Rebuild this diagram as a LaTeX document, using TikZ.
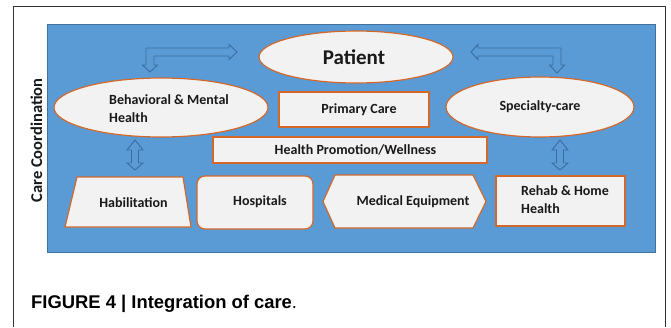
\documentclass[tikz,border=0pt]{standalone}
\usepackage{fontspec}
\setmainfont{Carlito}
\newfontfamily\capfont{Liberation Sans}
\usepackage{tikz}
\usetikzlibrary{shapes.geometric}
\definecolor{bgblue}{HTML}{5B9BD5}
\definecolor{edgeblue}{HTML}{41719C}
\definecolor{arrowblue}{HTML}{3A6C9E}
\definecolor{boxfill}{HTML}{F2F2F2}
\definecolor{boxline}{HTML}{D2692B}

\begin{document}
\begin{tikzpicture}[x=1pt,y=-1pt,
                    ell node/.style={ellipse,draw=boxline,fill=boxfill,line width=1.2pt,inner sep=0pt},
                    box node/.style={rectangle,draw=boxline,fill=boxfill,line width=1.2pt,inner sep=0pt},
                    txt node/.style={font=\fontsize{14}{17.5}\selectfont\bfseries,text=black!90,inner sep=0pt},
                    block arrow/.style={draw=arrowblue,fill=bgblue,line width=0.9pt,line join=miter}]

  \useasboundingbox (0,0) rectangle (671,327);
  \draw[black!80,line width=1pt] (13,327) |- (665,6) -- (665,327);
  \draw[fill=bgblue,draw=edgeblue,line width=0.8pt] (47,24) rectangle (655,252);

  \node[txt node,rotate=90,font=\fontsize{16.5}{20}\selectfont\bfseries] (cc) at (36.5,140.5) {Care Coordination};

  % top row
  \node[ell node,minimum width=194pt,minimum height=52pt] (pat) at (356,57) {};
  \node[txt node,font=\fontsize{21}{25}\selectfont\bfseries] (pattext) at (354,57) {Patient};

  % middle row
  \node[ell node,minimum width=214pt,minimum height=59pt] (beh) at (161,107.5) {};
  \node[txt node,align=left,anchor=west] (behtext) at (109,108.5) {Behavioral \& Mental\\Health};
  \node[box node,minimum width=150pt,minimum height=35pt] (prim) at (354,109.5) {};
  \node[txt node] (primtext) at (359,110) {Primary Care};
  \node[ell node,txt node,minimum width=188pt,minimum height=60pt] (spec) at (540,107) {Specialty-care};
  \node[box node,minimum width=274pt,minimum height=26pt] (promo) at (350,150) {};
  \node[txt node] (promotext) at (355.5,150) {Health Promotion/Wellness};

  % bottom row
  \draw[box node] (65,227) -- (77,177) -- (183,177) -- (191,227) -- cycle;
  \node[txt node] (hab) at (133.5,202.5) {Habilitation};
  \node[box node,rounded corners=8pt,minimum width=116pt,minimum height=53pt] (hosp) at (255,202.5) {};
  \node[txt node] (hosptext) at (260,202) {Hospitals};
  \draw[box node] (323,201.5) -- (335,175) -- (473,175) -- (486,201.5) -- (473,228) -- (335,228) -- cycle;
  \node[txt node] (med) at (413,201.5) {Medical Equipment};
  \node[box node,minimum width=129pt,minimum height=50pt] (rehab) at (560.5,201) {};
  \node[txt node,align=left,anchor=west] (rehabtext) at (521,199.5) {Rehab \& Home\\Health};

  % block arrows
  \draw[block arrow] (150,72) -- (157.5,65) -- (154,65) -- (154,56) -- (229,56) -- (229,59.5)
      -- (237,52) -- (229,44.5) -- (229,48) -- (146,48) -- (146,65) -- (142.5,65) -- cycle;
  \draw[block arrow] (471,52) -- (478,44.5) -- (478,48) -- (561,48) -- (561,65) -- (564.5,65)
      -- (557,73) -- (549.5,65) -- (553,65) -- (553,56) -- (478,56) -- (478,59.5) -- cycle;
  \foreach \c in {135,560}
    \draw[block arrow] (\c,140) -- (\c+8,150) -- (\c+3.5,150) -- (\c+3.5,163) -- (\c+8,163)
        -- (\c,170) -- (\c-8,163) -- (\c-3.5,163) -- (\c-3.5,150) -- (\c-8,150) -- cycle;

  % caption
  \node[anchor=base west,inner sep=0pt,font=\capfont\fontsize{18.4}{22}\selectfont] (cap) at (31,308)
      {\bfseries FIGURE 4 | Integration of care\mdseries.};
\end{tikzpicture}
\end{document}
